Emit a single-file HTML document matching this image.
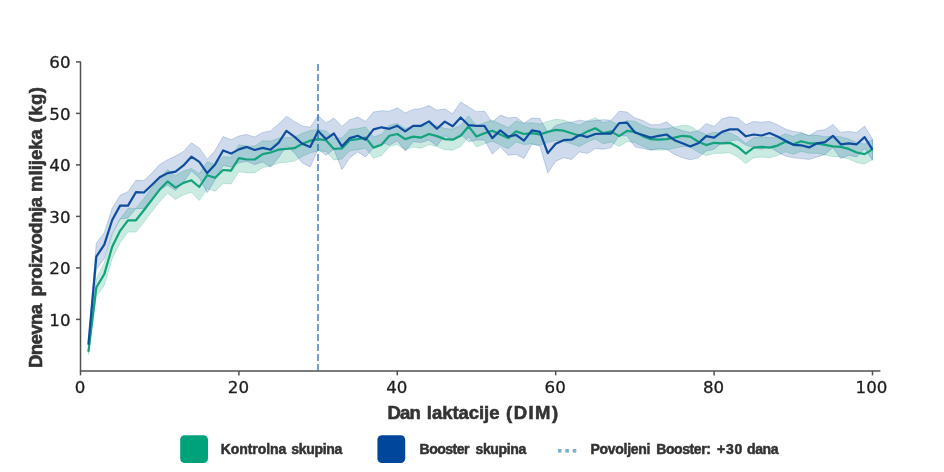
<!DOCTYPE html>
<html><head><meta charset="utf-8"><title>Chart</title>
<style>html,body{margin:0;padding:0;background:#fff}svg{display:block;filter:blur(0.45px)}</style></head>
<body>
<svg width="944" height="472" viewBox="0 0 944 472">
<rect width="944" height="472" fill="#fff"/>
<line x1="318" y1="64" x2="318" y2="370.5" stroke="#6595cc" stroke-width="1.8" stroke-dasharray="7 3"/>
<polygon points="88.4,349.3 96.3,278.7 104.3,262.8 112.2,234.9 120.1,219.0 128.0,208.4 135.9,208.4 143.9,198.4 151.8,188.1 159.7,177.8 167.6,169.5 175.5,175.7 183.5,171.1 191.4,168.5 199.3,173.7 207.2,161.8 215.1,164.4 223.1,156.7 231.0,157.2 238.9,144.8 246.8,146.1 254.7,146.1 262.7,140.7 270.6,141.2 278.5,138.3 286.4,137.6 294.3,137.2 302.3,133.3 310.2,130.6 318.1,129.5 326.0,130.9 333.9,138.0 341.9,137.9 349.8,129.6 357.7,128.6 365.6,127.0 373.5,137.1 381.5,134.3 389.4,125.2 397.3,123.4 405.2,128.6 413.1,126.0 421.1,127.0 429.0,123.4 436.9,125.5 444.8,128.6 452.7,129.1 460.7,125.2 468.6,115.7 476.5,126.0 484.4,122.7 492.3,120.1 500.3,124.0 508.2,127.6 516.1,120.9 524.0,123.4 531.9,122.7 539.9,124.0 547.8,121.4 555.7,119.3 563.6,120.1 571.5,122.7 579.5,125.2 587.4,120.9 595.3,117.8 603.2,122.7 611.1,120.9 619.1,125.5 627.0,120.4 634.9,121.4 642.8,125.5 650.7,128.6 658.7,129.1 666.6,128.6 674.5,127.0 682.4,125.2 690.3,126.0 698.3,131.2 706.2,134.5 714.1,132.2 722.0,133.2 729.9,132.7 737.9,136.8 745.8,143.5 753.7,137.6 761.6,136.8 769.5,137.6 777.5,137.6 785.4,133.7 793.3,136.3 801.2,133.2 809.1,135.3 817.1,135.3 825.0,136.8 832.9,136.3 840.8,136.8 848.7,138.9 856.7,142.5 864.6,144.0 872.5,139.4 872.5,159.5 864.6,164.1 856.7,162.6 848.7,159.0 840.8,156.9 832.9,156.4 825.0,154.9 817.1,153.3 809.1,153.3 801.2,151.3 793.3,154.3 785.4,151.8 777.5,155.6 769.5,157.7 761.6,156.9 753.7,157.7 745.8,163.6 737.9,156.9 729.9,152.8 722.0,153.3 714.1,153.3 706.2,155.6 698.3,152.3 690.3,147.1 682.4,146.4 674.5,148.2 666.6,149.7 658.7,150.2 650.7,149.7 642.8,146.6 634.9,142.5 627.0,141.5 619.1,146.6 611.1,142.0 603.2,143.8 595.3,138.9 587.4,142.0 579.5,146.4 571.5,143.8 563.6,141.2 555.7,140.4 547.8,142.5 539.9,145.1 531.9,143.8 524.0,144.6 516.1,142.0 508.2,148.7 500.3,145.1 492.3,141.2 484.4,143.8 476.5,147.1 468.6,136.8 460.7,146.4 452.7,150.2 444.8,149.7 436.9,146.6 429.0,144.6 421.1,148.2 413.1,147.1 405.2,149.7 397.3,144.6 389.4,146.4 381.5,155.4 373.5,158.2 365.6,148.2 357.7,149.7 349.8,150.7 341.9,159.0 333.9,159.9 326.0,151.5 318.1,150.9 310.2,152.8 302.3,156.4 294.3,161.1 286.4,162.3 278.5,163.0 270.6,165.9 262.7,167.5 254.7,172.9 246.8,172.9 238.9,171.6 231.0,184.0 223.1,183.4 215.1,191.2 207.2,188.6 199.3,200.4 191.4,192.2 183.5,194.8 175.5,199.4 167.6,193.2 159.7,201.5 151.8,211.8 143.9,222.1 135.9,232.1 128.0,232.1 120.1,242.7 112.2,258.6 104.3,285.4 96.3,296.2 88.4,354.4" fill="#12a27c" fill-opacity="0.22" stroke="#12a27c" stroke-opacity="0.22" stroke-width="1"/>
<polygon points="88.4,342.6 96.3,243.2 104.3,232.4 112.2,208.2 120.1,195.3 128.0,191.7 135.9,180.3 143.9,180.6 151.8,173.1 159.7,164.4 167.6,159.7 175.5,156.1 183.5,151.5 191.4,142.8 199.3,147.9 207.2,159.2 215.1,150.5 223.1,136.6 231.0,139.7 238.9,136.1 246.8,134.4 254.7,137.1 262.7,132.4 270.6,131.0 278.5,123.9 286.4,116.3 294.3,121.4 302.3,125.9 310.2,127.3 318.1,115.4 326.0,123.1 333.9,118.0 341.9,126.4 349.8,119.7 357.7,117.1 365.6,121.4 373.5,112.0 381.5,110.7 389.4,111.2 397.3,107.8 405.2,112.9 413.1,109.5 421.1,108.6 429.0,105.6 436.9,110.3 444.8,109.0 452.7,113.7 460.7,101.9 468.6,106.9 476.5,111.7 484.4,111.2 492.3,122.2 500.3,115.1 508.2,118.0 516.1,117.1 524.0,123.1 531.9,118.0 539.9,118.5 547.8,132.4 555.7,125.6 563.6,123.1 571.5,122.2 579.5,120.2 587.4,121.4 595.3,120.5 603.2,119.7 611.1,120.2 619.1,111.2 627.0,112.0 634.9,118.0 642.8,120.5 650.7,124.7 658.7,124.7 666.6,121.7 674.5,128.1 682.4,130.7 690.3,132.4 698.3,130.7 706.2,123.6 714.1,126.4 722.0,118.8 729.9,116.8 737.9,118.0 745.8,124.7 753.7,121.4 761.6,122.2 769.5,121.4 777.5,124.7 785.4,129.0 793.3,131.5 801.2,132.4 809.1,135.8 817.1,130.7 825.0,129.8 832.9,124.4 840.8,132.4 848.7,131.5 856.7,132.4 864.6,126.1 872.5,139.2 872.5,160.3 864.6,148.5 856.7,156.9 848.7,155.3 840.8,158.6 832.9,147.6 825.0,154.4 817.1,156.9 809.1,159.5 801.2,158.6 793.3,157.8 785.4,156.1 777.5,151.9 769.5,146.8 761.6,149.3 753.7,147.6 745.8,145.1 737.9,140.0 729.9,140.8 722.0,142.5 714.1,149.3 706.2,151.0 698.3,157.8 690.3,159.8 682.4,157.8 674.5,154.4 666.6,149.3 658.7,148.5 650.7,150.2 642.8,148.5 634.9,146.8 627.0,135.8 619.1,135.8 611.1,147.6 603.2,149.3 595.3,148.5 587.4,153.6 579.5,151.9 571.5,159.5 563.6,157.8 555.7,161.2 547.8,173.1 539.9,145.9 531.9,144.2 524.0,158.6 516.1,154.4 508.2,155.3 500.3,146.8 492.3,154.1 484.4,140.0 476.5,140.0 468.6,141.7 460.7,134.1 452.7,139.2 444.8,135.8 436.9,145.9 429.0,140.0 421.1,142.5 413.1,141.7 405.2,151.0 397.3,140.8 389.4,145.1 381.5,142.5 373.5,147.6 365.6,156.9 357.7,151.9 349.8,157.8 341.9,169.7 333.9,149.3 326.0,155.3 318.1,149.3 310.2,167.1 302.3,162.9 294.3,152.7 286.4,145.9 278.5,157.8 270.6,167.1 262.7,162.0 254.7,164.6 246.8,161.2 238.9,162.8 231.0,167.0 223.1,165.4 215.1,179.8 207.2,192.7 199.3,177.8 191.4,171.1 183.5,181.9 175.5,190.6 167.6,185.0 159.7,190.1 151.8,199.4 143.9,208.4 135.9,208.7 128.0,217.9 120.1,219.0 112.2,233.4 104.3,258.6 96.3,269.4 88.4,346.7" fill="#0e4c9e" fill-opacity="0.2" stroke="#0e4c9e" stroke-opacity="0.22" stroke-width="1"/>
<polyline points="88.4,351.8 96.3,287.5 104.3,274.1 112.2,246.8 120.1,230.8 128.0,220.3 135.9,220.3 143.9,210.2 151.8,199.9 159.7,189.6 167.6,181.4 175.5,187.6 183.5,182.9 191.4,180.3 199.3,187.0 207.2,175.2 215.1,177.8 223.1,170.0 231.0,170.6 238.9,158.2 246.8,159.5 254.7,159.5 262.7,154.1 270.6,152.5 278.5,149.7 286.4,148.9 294.3,148.2 302.3,143.8 310.2,140.7 318.1,139.1 326.0,140.2 333.9,148.9 341.9,148.4 349.8,140.2 357.7,139.1 365.6,137.6 373.5,147.6 381.5,144.8 389.4,135.8 397.3,134.0 405.2,139.1 413.1,136.6 421.1,137.6 429.0,134.0 436.9,136.1 444.8,139.1 452.7,139.7 460.7,135.8 468.6,126.3 476.5,136.6 484.4,133.2 492.3,130.7 500.3,134.5 508.2,138.1 516.1,131.4 524.0,134.0 531.9,133.2 539.9,134.5 547.8,131.9 555.7,129.9 563.6,130.7 571.5,133.2 579.5,135.8 587.4,131.4 595.3,128.3 603.2,133.2 611.1,131.4 619.1,136.1 627.0,130.9 634.9,131.9 642.8,136.1 650.7,139.1 658.7,139.7 666.6,139.1 674.5,137.6 682.4,135.8 690.3,136.6 698.3,141.7 706.2,145.1 714.1,142.8 722.0,143.3 729.9,142.8 737.9,146.9 745.8,153.6 753.7,147.6 761.6,146.9 769.5,147.6 777.5,145.6 785.4,141.7 793.3,144.3 801.2,141.2 809.1,143.3 817.1,143.3 825.0,144.8 832.9,146.4 840.8,146.9 848.7,148.9 856.7,152.5 864.6,154.1 872.5,149.4" fill="none" stroke="#12a27c" stroke-width="2.2" stroke-linejoin="round"/>
<polyline points="88.4,344.6 96.3,256.6 104.3,244.7 112.2,220.0 120.1,205.6 128.0,205.6 135.9,192.2 143.9,192.5 151.8,185.0 159.7,177.3 167.6,173.1 175.5,171.6 183.5,165.4 191.4,156.7 199.3,161.8 207.2,173.1 215.1,164.4 223.1,150.5 231.0,153.6 238.9,149.4 246.8,146.9 254.7,150.0 262.7,147.9 270.6,149.7 278.5,142.8 286.4,130.9 294.3,136.6 302.3,143.8 310.2,146.9 318.1,130.9 326.0,139.1 333.9,133.5 341.9,146.4 349.8,138.1 357.7,135.8 365.6,139.7 373.5,129.4 381.5,127.3 389.4,128.8 397.3,125.8 405.2,131.4 413.1,125.8 421.1,125.8 429.0,121.4 436.9,128.8 444.8,121.6 452.7,126.3 460.7,117.5 468.6,125.2 476.5,125.8 484.4,125.8 492.3,138.1 500.3,130.4 508.2,136.6 516.1,135.0 524.0,140.7 531.9,130.4 539.9,131.9 547.8,153.1 555.7,143.8 563.6,140.2 571.5,139.7 579.5,135.0 587.4,137.1 595.3,134.0 603.2,133.7 611.1,133.7 619.1,123.2 627.0,122.7 634.9,132.5 642.8,135.0 650.7,137.6 658.7,135.8 666.6,134.5 674.5,140.2 682.4,143.3 690.3,146.4 698.3,143.3 706.2,136.1 714.1,137.6 722.0,131.9 729.9,129.4 737.9,129.4 745.8,136.3 753.7,134.5 761.6,135.5 769.5,133.0 777.5,136.6 785.4,140.7 793.3,144.8 801.2,145.3 809.1,147.4 817.1,143.3 825.0,142.2 832.9,135.8 840.8,144.3 848.7,143.3 856.7,144.3 864.6,137.1 872.5,149.7" fill="none" stroke="#0e4c9e" stroke-width="2.2" stroke-linejoin="round"/>
<g stroke="#505050" stroke-width="1.5" fill="none">
<line x1="80.5" y1="61.4" x2="80.5" y2="371.4"/>
<line x1="80" y1="370.9" x2="880.4" y2="370.9"/>
<line x1="76" y1="319.4" x2="80.5" y2="319.4"/>
<line x1="76" y1="267.9" x2="80.5" y2="267.9"/>
<line x1="76" y1="216.4" x2="80.5" y2="216.4"/>
<line x1="76" y1="164.9" x2="80.5" y2="164.9"/>
<line x1="76" y1="113.4" x2="80.5" y2="113.4"/>
<line x1="76" y1="61.9" x2="80.5" y2="61.9"/>
<line x1="80.5" y1="370.9" x2="80.5" y2="375.4"/>
<line x1="238.9" y1="370.9" x2="238.9" y2="375.4"/>
<line x1="397.3" y1="370.9" x2="397.3" y2="375.4"/>
<line x1="555.7" y1="370.9" x2="555.7" y2="375.4"/>
<line x1="714.1" y1="370.9" x2="714.1" y2="375.4"/>
<line x1="872.5" y1="370.9" x2="872.5" y2="375.4"/>
</g>
<g font-family="'DejaVu Sans', 'Liberation Sans', sans-serif" font-size="16.67" fill="#1c1c1c" stroke="#1c1c1c" stroke-width="0.3">
<text x="70.5" y="326.0" text-anchor="end">10</text>
<text x="70.5" y="273.9" text-anchor="end">20</text>
<text x="70.5" y="223.1" text-anchor="end">30</text>
<text x="70.5" y="170.9" text-anchor="end">40</text>
<text x="70.5" y="120.2" text-anchor="end">50</text>
<text x="70.5" y="67.9" text-anchor="end">60</text>
<text x="80.0" y="393.3" text-anchor="middle">0</text>
<text x="238.4" y="393.3" text-anchor="middle">20</text>
<text x="396.8" y="393.3" text-anchor="middle">40</text>
<text x="555.2" y="393.3" text-anchor="middle">60</text>
<text x="713.6" y="393.3" text-anchor="middle">80</text>
<text x="871.5" y="393.3" text-anchor="middle">100</text>
</g>
<g font-family="'Liberation Sans', sans-serif" font-weight="bold" fill="#333" stroke="#333" stroke-width="0.35">
<text x="387.4" y="419.4" font-size="18.5" stroke-width="0.6" textLength="33.5" lengthAdjust="spacing">Dan</text>
<text x="426.8" y="419.4" font-size="18.5" stroke-width="0.6" textLength="72.7" lengthAdjust="spacing">laktacije</text>
<text x="506" y="419.4" font-size="18.5" stroke-width="0.6" textLength="52.1" lengthAdjust="spacing">(DIM)</text>
<g transform="translate(42.3,368) rotate(-90)">
<text x="0" y="0" font-size="18.5" stroke-width="0.6" textLength="64" lengthAdjust="spacing">Dnevna</text>
<text x="71.5" y="0" font-size="18.5" stroke-width="0.6" textLength="99.6" lengthAdjust="spacing">proizvodnja</text>
<text x="176.1" y="0" font-size="18.5" stroke-width="0.6" textLength="62.7" lengthAdjust="spacing">mlijeka</text>
<text x="245.6" y="0" font-size="18.5" stroke-width="0.6" textLength="35.4" lengthAdjust="spacing">(kg)</text>
</g>
<text x="220.8" y="453.8" font-size="14" stroke-width="0.5" textLength="65.4" lengthAdjust="spacing">Kontrolna</text>
<text x="291.2" y="453.8" font-size="14" stroke-width="0.5" textLength="51.1" lengthAdjust="spacing">skupina</text>
<text x="419.5" y="453.8" font-size="14" stroke-width="0.5" textLength="50" lengthAdjust="spacing">Booster</text>
<text x="475.5" y="453.8" font-size="14" stroke-width="0.5" textLength="50.8" lengthAdjust="spacing">skupina</text>
<text x="590.4" y="453.8" font-size="14" stroke-width="0.5" textLength="60.1" lengthAdjust="spacing">Povoljeni</text>
<text x="656.3" y="453.8" font-size="14" stroke-width="0.5" textLength="54.6" lengthAdjust="spacing">Booster:</text>
<text x="716.9" y="453.8" font-size="14" stroke-width="0.5" textLength="25.4" lengthAdjust="spacing">+30</text>
<text x="747.1" y="453.8" font-size="14" stroke-width="0.5" textLength="31.4" lengthAdjust="spacing">dana</text>
</g>
<rect x="180.2" y="435.2" width="27.8" height="27.9" rx="4.5" fill="#00a27b"/>
<rect x="377.4" y="435.2" width="27.8" height="27.9" rx="4.5" fill="#00469b"/>
<rect x="557.9" y="449.0" width="3.6" height="3.6" fill="#7ab1d2"/>
<rect x="565.3" y="449.0" width="3.6" height="3.6" fill="#7ab1d2"/>
<rect x="572.7" y="449.0" width="3.6" height="3.6" fill="#7ab1d2"/>
</svg>
</body></html>
